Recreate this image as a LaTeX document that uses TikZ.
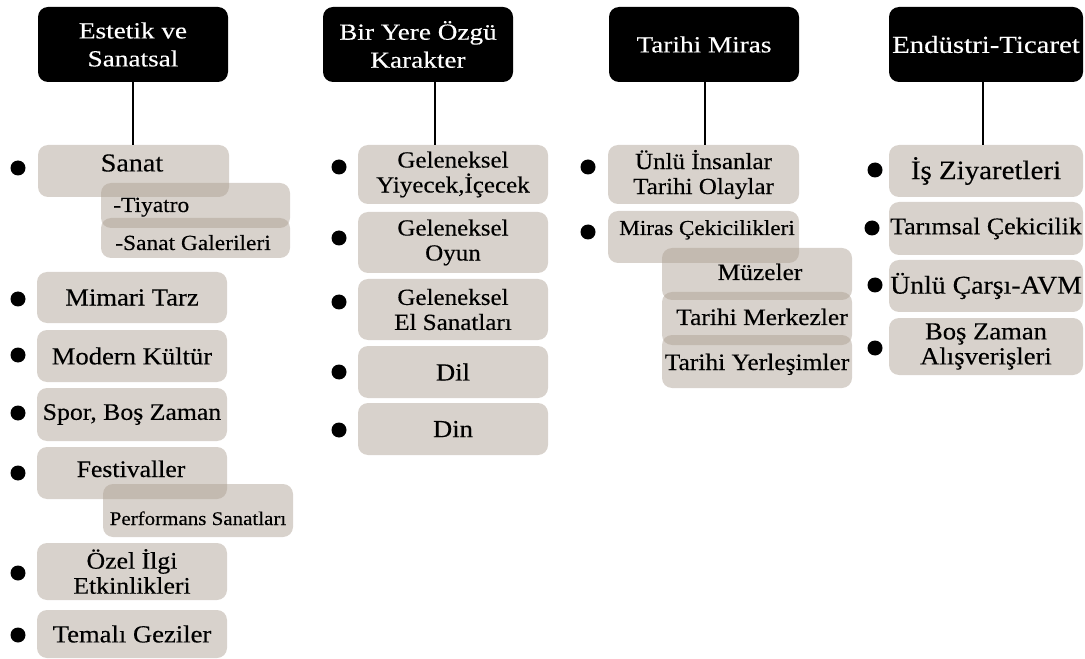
\documentclass[tikz,border=0pt]{standalone}
\usepackage{fontspec}
\setmainfont{Liberation Serif}[FakeStretch=1.085, FakeBold=0.3]
\newfontfamily\headf{Liberation Serif}[FakeStretch=1.18, FakeBold=0.3]
\definecolor{boxc}{RGB}{172,159,146}
\newcommand\fsz[2]{\fontsize{#1}{#2}\selectfont}
\tikzset{
  sz/.style 2 args={minimum width=#1*0.75pt, minimum height=#2*0.75pt},
  head/.style={fill=black, rounded corners=7.5pt, text=white, align=center, inner sep=0pt, font=\headf\fsz{17.3pt}{21pt}},
  item/.style={fill=boxc, fill opacity=0.47, text opacity=1, rounded corners=7.5pt, inner sep=0pt, align=center, font=\fsz{18.4pt}{18.75pt}},
  lbl/.style={inner sep=0pt, align=center},
  dot/.style={circle, fill=black, minimum size=11.25pt, inner sep=0pt},
  link/.style={line width=1.5pt},
}
\begin{document}
\begin{tikzpicture}[x=0.75pt, y=-0.75pt]
\useasboundingbox (0,0) rectangle (1085,659);
% headers
\node[head, sz={190}{75}] (h1) at (133,44.5) {Estetik ve\\Sanatsal};
\node[head, sz={190}{75}] (h2) at (418,44.5) {Bir Yere Özgü\\Karakter};
\node[head, sz={190}{75}] (h3) at (704,44.5) {Tarihi Miras};
\node[head, sz={194}{75}, font=\headf\fsz{18.3pt}{21pt}] (h4) at (986,44.5) {Endüstri-Ticaret};

% column 1
\node[item, sz={191}{52}] (sanat) at (133.5,171) {};
\node[lbl, font=\fsz{19.4pt}{21pt}] (sanatt) at (132,163) {Sanat};
\node[item, sz={189}{45}] (tiy) at (195.5,205.5) {};
\node[lbl, anchor=base west, font=\fsz{16.2pt}{18pt}] (tiyt) at (113,212) {-Tiyatro};
\node[item, sz={189}{40}] (gal) at (195.5,238) {};
\node[lbl, anchor=base west, font=\fsz{16.2pt}{18pt}] (galt) at (115,250) {-Sanat Galerileri};
\node[item, sz={190}{51}] (mim) at (132,297.5) {Mimari Tarz};
\node[item, sz={190}{52}] (mod) at (132,356) {Modern Kültür};
\node[item, sz={190}{53}, font=\fsz{17.8pt}{18.75pt}] (spor) at (132,414.5) {Spor, Boş Zaman};
\node[item, sz={190}{52}] (fest) at (132,473) {};
\node[lbl, anchor=base, font=\fsz{17.8pt}{18.75pt}] (festt) at (131,477) {Festivaller};
\node[item, sz={190}{53}] (perf) at (198,510.5) {};
\node[lbl, anchor=base, font=\fsz{14.5pt}{16pt}] (perft) at (198,525) {Performans Sanatları};
\node[item, sz={190}{57}, font=\fsz{17.8pt}{18.75pt}] (ozel) at (132,571.5) {Özel İlgi\\Etkinlikleri};
\node[item, sz={190}{48}] (tema) at (132,634) {Temalı Geziler};

% column 2
\node[item, sz={190}{59}, font=\fsz{17.3pt}{18.75pt}] (yiy) at (453,174.5) {Geleneksel\\Yiyecek,İçecek};
\node[item, sz={190}{61}, font=\fsz{17.3pt}{18.75pt}] (oyun) at (453,242.5) {Geleneksel\\Oyun};
\node[item, sz={190}{61}, font=\fsz{17.3pt}{18.75pt}] (el) at (453,309.5) {Geleneksel\\El Sanatları};
\node[item, sz={190}{52}] (dil) at (453,372) {Dil};
\node[item, sz={190}{52}] (din) at (453,429) {Din};

% column 3
\node[item, sz={191}{59}, font=\fsz{17.3pt}{18.75pt}] (unlu) at (703.5,174.5) {Ünlü İnsanlar\\Tarihi Olaylar};
\node[item, sz={191}{52}] (miras) at (703.5,237) {};
\node[lbl, anchor=base, font=\fsz{16pt}{18pt}] (mirast) at (707,235) {Miras Çekicilikleri};
\node[item, sz={190}{52}] (muz) at (757,274) {};
\node[lbl, anchor=base, font=\fsz{17.6pt}{18pt}] (muzt) at (760,280) {Müzeler};
\node[item, sz={190}{53}] (merk) at (757,318.5) {};
\node[lbl, anchor=base, font=\fsz{17.6pt}{18pt}] (merkt) at (762,325) {Tarihi Merkezler};
\node[item, sz={190}{53}] (yerl) at (757,361.5) {};
\node[lbl, anchor=base, font=\fsz{17.6pt}{18pt}] (yerlt) at (757,370) {Tarihi Yerleşimler};

% column 4
\node[item, sz={194}{52}, font=\fsz{20pt}{18.75pt}] (is) at (986,171) {İş Ziyaretleri};
\node[item, sz={194}{53}, font=\fsz{17.9pt}{18.75pt}] (tar) at (986,228.5) {Tarımsal Çekicilik};
\node[item, sz={194}{52}, font=\fsz{19.2pt}{18.75pt}] (carsi) at (986,286) {Ünlü Çarşı-AVM};
\node[item, sz={194}{57}] (bos) at (986,346.5) {Boş Zaman\\Alışverişleri};

% connectors
\coordinate (c1) at (133,0);
\coordinate (c2) at (435,0);
\coordinate (c3) at (705,0);
\coordinate (c4) at (983,0);
\draw[link] (h1.south -| c1) -- (sanat.north -| c1);
\draw[link] (h2.south -| c2) -- (yiy.north -| c2);
\draw[link] (h3.south -| c3) -- (unlu.north -| c3);
\draw[link] (h4.south -| c4) -- (is.north -| c4);

% bullets
\foreach \n/\y in {1/168,2/299,3/355,4/413,5/473,6/573,7/635}
  \node[dot] (ba\n) at (18,\y) {};
\foreach \n/\y in {1/167,2/238,3/302,4/372,5/430}
  \node[dot] (bb\n) at (339,\y) {};
\foreach \n/\y in {1/167,2/232}
  \node[dot] (bc\n) at (588,\y) {};
\node[dot] (bd1) at (875,170) {};
\node[dot] (bd2) at (872,228) {};
\node[dot] (bd3) at (875,285) {};
\node[dot] (bd4) at (875,348) {};
\end{tikzpicture}
\end{document}
